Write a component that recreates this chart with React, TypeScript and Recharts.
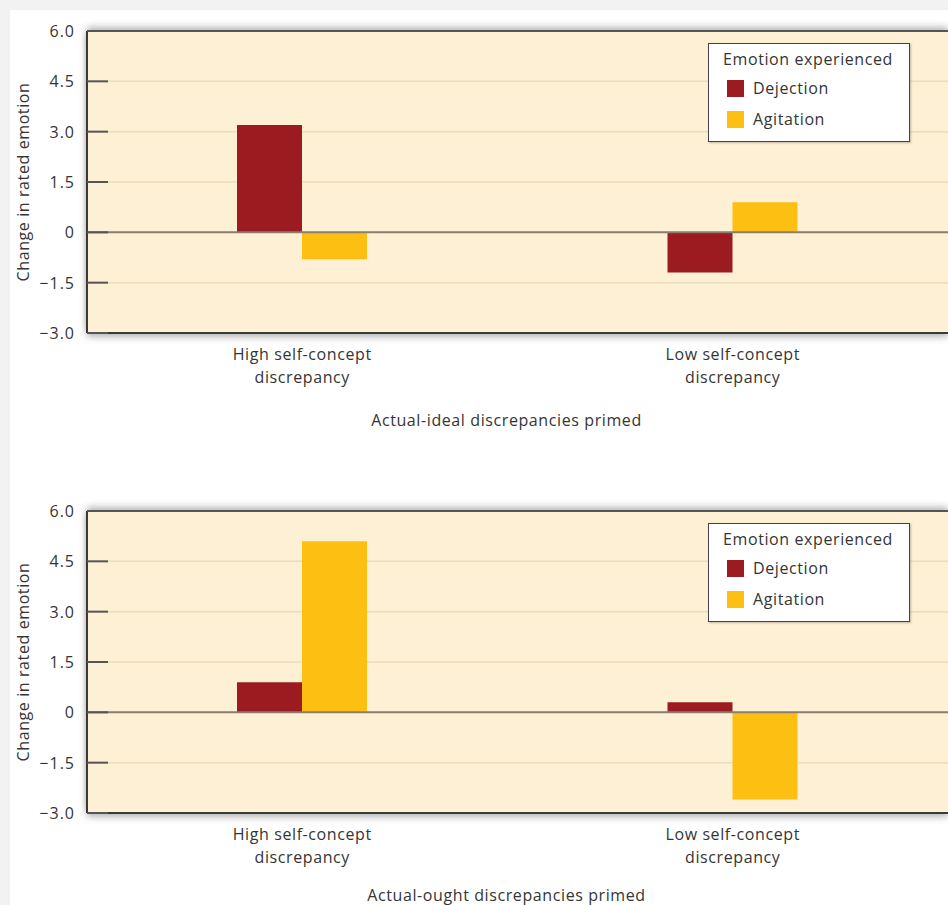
import React from "react";
import {
  BarChart,
  Bar,
  XAxis,
  YAxis,
  CartesianGrid,
  ReferenceLine,
  Legend,
} from "recharts";

const CATEGORIES = ["High", "Low"];
const CATEGORY_LINES: Record<string, string[]> = {
  High: ["High self-concept", "discrepancy"],
  Low: ["Low self-concept", "discrepancy"],
};
const Y_TICKS = [-3, -1.5, 0, 1.5, 3, 4.5, 6];

const IDEAL_DEJECTION = [3.2, -1.2];
const IDEAL_AGITATION = [-0.8, 0.9];
const OUGHT_DEJECTION = [0.9, 0.3];
const OUGHT_AGITATION = [5.1, -2.6];

const SERIES = [
  { key: "dejection", label: "Dejection", color: "#9c1b20" },
  { key: "agitation", label: "Agitation", color: "#fdbf12" },
];

const FONT = "'Open Sans', sans-serif";
const TEXT = "#353535";
const FS = 16;
const LS = 0.6;

const fmtTick = (v: number) =>
  v === 0 ? "0" : (v < 0 ? "\u2212" : "") + Math.abs(v).toFixed(1);

function YTick(props: any) {
  const { x, y, payload } = props;
  return (
    <g>
      <line x1={x + 12} x2={x + 33} y1={y} y2={y} stroke="#555" strokeWidth={2} />
      <text
        x={x}
        y={y}
        textAnchor="end"
        dominantBaseline="central"
        fontSize={FS}
        letterSpacing={1}
        fontFamily={FONT}
        fill={TEXT}
      >
        {fmtTick(payload.value)}
      </text>
    </g>
  );
}

function XTick(props: any) {
  const { x, y, payload } = props;
  const lines = CATEGORY_LINES[payload.value] || [payload.value];
  return (
    <g>
      {lines.map((l, i) => (
        <text
          key={i}
          x={x}
          y={y + 21 + i * 23}
          textAnchor="middle"
          dominantBaseline="central"
          fontSize={FS}
          letterSpacing={LS}
          fontFamily={FONT}
          fill={TEXT}
        >
          {l}
        </text>
      ))}
    </g>
  );
}

function LegendBox() {
  return (
    <div
      style={{
        width: 202,
        height: 99,
        boxSizing: "border-box",
        background: "#fff",
        border: "1.5px solid #444",
        position: "relative",
        fontFamily: FONT,
        color: TEXT,
        fontSize: FS,
        letterSpacing: LS,
        boxShadow: "1px 1px 2px rgba(0,0,0,0.25)",
      }}
    >
      <div style={{ position: "absolute", left: 14, top: 5, lineHeight: "20px", whiteSpace: "nowrap" }}>
        Emotion experienced
      </div>
      {SERIES.map((s, i) => (
        <div
          key={s.key}
          style={{
            position: "absolute",
            left: 18,
            top: 34 + i * 31,
            height: 20,
            display: "flex",
            alignItems: "center",
          }}
        >
          <span
            style={{
              display: "inline-block",
              width: 17,
              height: 17,
              background: s.color,
              marginRight: 9,
            }}
          />
          <span style={{ lineHeight: "20px" }}>{s.label}</span>
        </div>
      ))}
    </div>
  );
}

function Panel({
  dejection,
  agitation,
  title,
  titleY = 87,
}: {
  dejection: number[];
  agitation: number[];
  title: string;
  titleY?: number;
}) {
  const data = CATEGORIES.map((c, i) => ({
    name: c,
    dejection: dejection[i],
    agitation: agitation[i],
  }));
  return (
    <div style={{ position: "relative", width: 938, height: 480 }}>
      {/* soft shadow around the plot frame */}
      <div
        style={{
          position: "absolute",
          left: 77,
          top: 21,
          width: 861,
          height: 302,
          boxShadow: "0 -4px 7px rgba(0,0,0,0.28), 0 4px 7px rgba(0,0,0,0.28)",
        }}
      />
      <div style={{ position: "absolute", left: 0, top: 0 }}>
        <BarChart
          width={938}
          height={480}
          data={data}
          margin={{ top: 21, right: 0, left: 0, bottom: 0 }}
          barGap={0}
          barSize={65}
        >
          <CartesianGrid
            vertical={false}
            stroke="#ecdcba"
            strokeWidth={1.5}
            fill="#fdf0d4"
            fillOpacity={1}
          />
          <XAxis
            dataKey="name"
            height={157}
            tickLine={false}
            tickSize={0}
            tickMargin={0}
            axisLine={{ stroke: "#3a3a3a", strokeWidth: 2 }}
            tick={<XTick />}
            label={{
              content: (p: any) => {
                const vb = p.viewBox;
                return (
                  <text
                    x={vb.x + vb.width / 2 - 11}
                    y={vb.y + titleY}
                    textAnchor="middle"
                    dominantBaseline="central"
                    fontSize={FS}
                    letterSpacing={LS}
                    fontFamily={FONT}
                    fill={TEXT}
                  >
                    {title}
                  </text>
                );
              },
            }}
          />
          <YAxis
            width={77}
            domain={[-3, 6]}
            ticks={Y_TICKS}
            interval={0}
            tickLine={false}
            tickSize={0}
            tickMargin={12}
            axisLine={{ stroke: "#3a3a3a", strokeWidth: 2 }}
            tick={<YTick />}
            label={{
              content: (p: any) => {
                const vb = p.viewBox;
                const cx = 13;
                const cy = vb.y + vb.height / 2;
                return (
                  <text
                    x={cx}
                    y={cy}
                    transform={`rotate(-90 ${cx} ${cy})`}
                    textAnchor="middle"
                    dominantBaseline="central"
                    fontSize={FS}
                    letterSpacing={LS}
                    fontFamily={FONT}
                    fill={TEXT}
                  >
                    Change in rated emotion
                  </text>
                );
              },
            }}
          />
          <ReferenceLine y={6} stroke="#555" strokeWidth={2} />
          <ReferenceLine y={0} stroke="#8a7e6c" strokeWidth={2} />
          <Legend
            layout="vertical"
            align="center"
            verticalAlign="middle"
            content={() => <LegendBox />}
            wrapperStyle={{ position: "absolute", left: 698, top: 33, width: 202, height: 99 }}
          />
          {SERIES.map((s) => (
            <Bar
              key={s.key}
              dataKey={s.key}
              name={s.label}
              fill={s.color}
              isAnimationActive={false}
            />
          ))}
        </BarChart>
      </div>
    </div>
  );
}

export default function App() {
  return (
    <div
      style={{
        position: "absolute",
        left: 0,
        top: 0,
        width: 948,
        height: 905,
        background: "#f2f2f2",
        overflow: "hidden",
      }}
    >
      <div
        style={{
          position: "absolute",
          left: 10,
          top: 10,
          width: 938,
          height: 895,
          background: "#fff",
          overflow: "hidden",
        }}
      >
        <Panel
          dejection={IDEAL_DEJECTION}
          agitation={IDEAL_AGITATION}
          title="Actual-ideal discrepancies primed"
        />
        <Panel
          dejection={OUGHT_DEJECTION}
          agitation={OUGHT_AGITATION}
          title="Actual-ought discrepancies primed"
          titleY={82}
        />
      </div>
    </div>
  );
}
